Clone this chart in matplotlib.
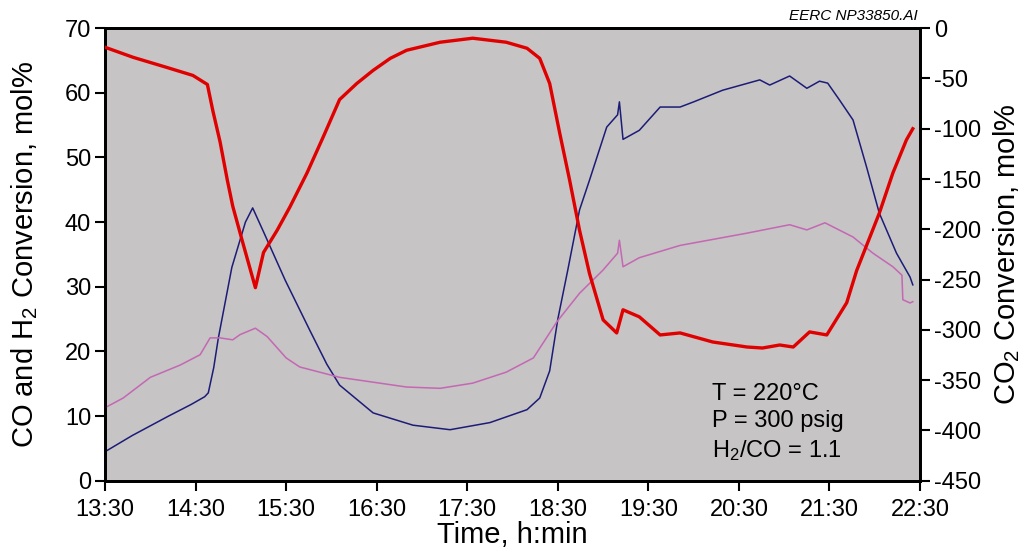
import matplotlib
matplotlib.use("Agg")
import matplotlib.pyplot as plt
import numpy as np

plt.rcParams['font.family'] = ['Liberation Sans', 'DejaVu Sans']
plt.rcParams['mathtext.fontset'] = 'custom'
plt.rcParams['mathtext.rm'] = 'Liberation Sans'
plt.rcParams['mathtext.it'] = 'Liberation Sans:italic'
plt.rcParams['axes.unicode_minus'] = False

# time in hours after 13:30
t_blue = [0, 0.3, 0.7, 0.95, 1.1, 1.14, 1.2, 1.25, 1.4, 1.55, 1.63, 1.75, 1.99, 2.26, 2.45,
          2.59, 2.96, 3.4, 3.81, 4.25, 4.66, 4.8, 4.91, 5.0, 5.11, 5.24, 5.35, 5.54, 5.66,
          5.68, 5.72, 5.9, 6.13, 6.35, 6.5, 6.82, 7.23, 7.34, 7.56, 7.75, 7.89, 7.98, 8.11,
          8.26, 8.41, 8.55, 8.74, 8.89, 8.92]
co_conv = [4.5, 7.0, 10.0, 11.8, 13.0, 13.6, 17.5, 22.0, 33.0, 40.0, 42.2, 38.5, 31.0, 23.3,
           18.0, 14.8, 10.5, 8.6, 7.9, 9.0, 11.0, 12.8, 17.0, 25.0, 32.6, 41.9, 46.5, 54.7,
           56.6, 58.6, 52.8, 54.2, 57.8, 57.8, 58.6, 60.4, 62.0, 61.2, 62.6, 60.7, 61.8,
           61.5, 58.9, 55.8, 48.5, 41.4, 35.2, 31.5, 30.3]

t_pink = [0, 0.2, 0.5, 0.83, 1.05, 1.16, 1.27, 1.41, 1.49, 1.66, 1.79, 2.0, 2.15, 2.37,
          2.59, 3.33, 3.7, 4.06, 4.43, 4.73, 4.99, 5.24, 5.5, 5.66, 5.68, 5.72, 5.9, 6.35,
          7.09, 7.56, 7.75, 7.95, 8.26, 8.48, 8.7, 8.8, 8.81, 8.89, 8.92]
h2_conv = [11.3, 12.8, 16.0, 17.9, 19.5, 22.1, 22.1, 21.8, 22.6, 23.6, 22.3, 19.0, 17.6,
           16.8, 16.0, 14.5, 14.3, 15.1, 16.8, 19.0, 24.6, 29.0, 32.6, 35.2, 37.2, 33.1,
           34.5, 36.4, 38.3, 39.6, 38.8, 39.9, 37.7, 35.2, 33.1, 31.8, 28.0, 27.5, 27.7]

t_red = [0, 0.31, 0.68, 0.97, 1.13, 1.19, 1.27, 1.35, 1.41, 1.52, 1.66, 1.75, 1.9, 2.04,
         2.23, 2.41, 2.59, 2.78, 2.96, 3.15, 3.33, 3.7, 4.06, 4.43, 4.66, 4.8, 4.91, 5.02,
         5.13, 5.24, 5.35, 5.5, 5.65, 5.72, 5.9, 6.13, 6.35, 6.71, 7.09, 7.26, 7.45, 7.6,
         7.78, 7.97, 8.19, 8.3, 8.55, 8.7, 8.85, 8.92]
co2_conv = [-19, -29, -39, -47, -56, -82, -113, -151, -177, -213, -258, -223, -201, -178,
            -144, -108, -71, -55, -42, -30, -22, -14, -10, -14, -20, -30, -55, -104, -151,
            -201, -244, -290, -303, -280, -287, -305, -303, -312, -317, -318, -315, -317,
            -302, -305, -273, -241, -184, -144, -111, -100]

xtick_labels = ["13:30", "14:30", "15:30", "16:30", "17:30", "18:30", "19:30",
                "20:30", "21:30", "22:30"]

fig = plt.figure(figsize=(10.2, 5.52), dpi=100)
ax = fig.add_axes([0.103, 0.129, 0.799, 0.820])
ax.set_facecolor('#c6c4c4')
ax2 = ax.twinx()

ax.plot(t_blue, co_conv, color='#1c1c78', lw=1.1, zorder=3)
ax.plot(t_pink, h2_conv, color='#c467b4', lw=1.1, zorder=3)
ax2.plot(t_red, co2_conv, color='#e00000', lw=2.4, zorder=4)

ax.set_xlim(0, 9)
ax.set_ylim(0, 70)
ax2.set_ylim(-450, 0)
ax.set_xticks(np.arange(10))
ax.set_xticklabels(xtick_labels)
ax.set_yticks(np.arange(0, 71, 10))
ax2.set_yticks(np.arange(-450, 1, 50))

for a in (ax, ax2):
    for s in a.spines.values():
        s.set_linewidth(2.0)
        s.set_color('black')
    a.tick_params(direction='out', length=7, width=1.5, labelsize=17, pad=3)
ax.tick_params(axis='x', pad=6)

ax.set_xlabel('Time, h:min', fontsize=21, labelpad=0)
ax.set_ylabel('CO and H$_2$ Conversion, mol%', fontsize=21, labelpad=18)
ax2.set_ylabel('CO$_2$ Conversion, mol%', fontsize=21, labelpad=7)

ax.text(0.745, 0.217, 'T = 220°C\nP = 300 psig\nH$_2$/CO = 1.1', transform=ax.transAxes,
        fontsize=17, va='top', ha='left', linespacing=1.32)
fig.text(0.9, 0.958, 'EERC NP33850.AI', fontsize=11, style='italic', ha='right', va='bottom')

fig.savefig('out.png', dpi=100)
